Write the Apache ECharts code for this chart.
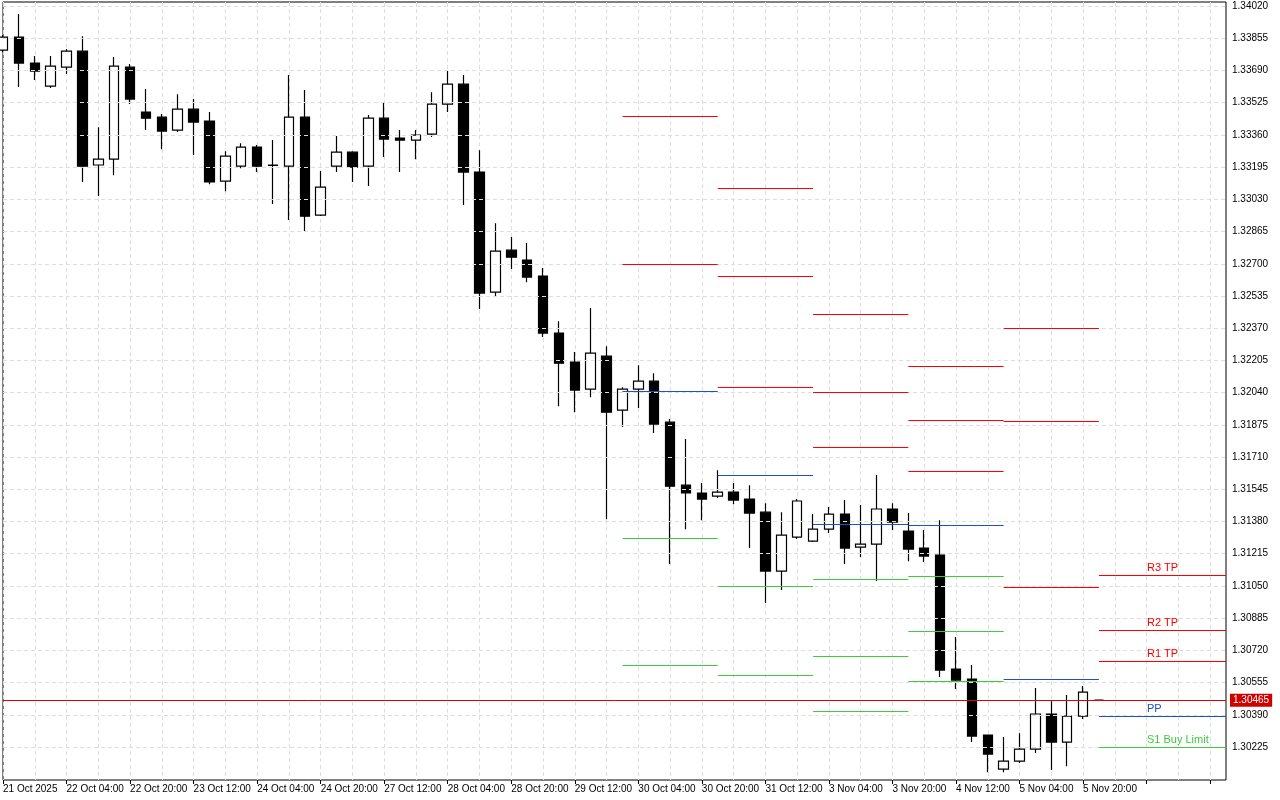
<!DOCTYPE html>
<html><head><meta charset="utf-8">
<script src="https://cdn.jsdelivr.net/npm/echarts@6/dist/echarts.min.js"></script>
<style>html,body{margin:0;padding:0;background:#fff}#c{width:1280px;height:800px}</style>
</head><body><div id="c"></div>
<script>
// OHLC per 4H bar: [open, close, low, high]
const opens  = [1.33795,1.33861,1.33728,1.33610,1.33707,1.33789,1.33206,1.33236,1.33707,1.33477,1.33451,1.33385,1.33492,1.33431,1.33124,1.33200,1.33298,1.33206,1.33200,1.33451,1.32949,1.33200,1.33272,1.33200,1.33446,1.33344,1.33334,1.33364,1.33518,1.33620,1.33170,1.32555,1.32770,1.32719,1.32637,1.32345,1.32197,1.32058,1.32227,1.31951,1.32058,1.32099,1.31889,1.31566,1.31526,1.31510,1.31531,1.31495,1.31428,1.31126,1.31300,1.31280,1.31341,1.31418,1.31249,1.31264,1.31444,1.31331,1.31244,1.31208,1.30624,1.30573,1.30286,1.30112,1.30153,1.30214,1.30394,1.30250,1.30383,1.30465];
const closes = [1.33861,1.33728,1.33687,1.33713,1.33789,1.33200,1.33236,1.33713,1.33544,1.33446,1.33380,1.33492,1.33426,1.33119,1.33252,1.33298,1.33200,1.33204,1.33451,1.32944,1.33093,1.33272,1.33195,1.33446,1.33339,1.33334,1.33359,1.33518,1.33620,1.33170,1.32550,1.32765,1.32734,1.32632,1.32345,1.32191,1.32053,1.32243,1.31940,1.32058,1.32099,1.31879,1.31561,1.31526,1.31495,1.31531,1.31490,1.31423,1.31126,1.31310,1.31485,1.31341,1.31418,1.31244,1.31264,1.31444,1.31377,1.31239,1.31203,1.30619,1.30568,1.30281,1.30189,1.30153,1.30214,1.30394,1.30250,1.30383,1.30506,1.30465];
const lows   = [1.33784,1.33605,1.33641,1.33600,1.33672,1.33119,1.33047,1.33154,1.33518,1.33385,1.33287,1.33375,1.33257,1.33108,1.33072,1.33190,1.33170,1.33006,1.32924,1.32868,1.32945,1.33170,1.33119,1.33098,1.33247,1.33170,1.33236,1.33349,1.33477,1.33001,1.32468,1.32535,1.32673,1.32606,1.32325,1.31971,1.31940,1.32017,1.31392,1.31864,1.31961,1.31833,1.31162,1.31341,1.31387,1.31500,1.31469,1.31244,1.30962,1.31029,1.31290,1.31275,1.31321,1.31162,1.31198,1.31075,1.31336,1.31177,1.31172,1.30583,1.30522,1.30250,1.30096,1.30096,1.30143,1.30194,1.30107,1.30127,1.30368,1.30462];
const highs  = [1.33871,1.33979,1.33764,1.33764,1.33800,1.33866,1.33400,1.33759,1.33723,1.33595,1.33467,1.33569,1.33544,1.33477,1.33277,1.33318,1.33308,1.33334,1.33667,1.33590,1.33175,1.33354,1.33277,1.33462,1.33528,1.33385,1.33385,1.33579,1.33692,1.33667,1.33282,1.32908,1.32837,1.32806,1.32678,1.32406,1.32248,1.32473,1.32278,1.32068,1.32181,1.32140,1.31905,1.31802,1.31577,1.31643,1.31577,1.31566,1.31474,1.31428,1.31495,1.31418,1.31454,1.31490,1.31464,1.31618,1.31474,1.31423,1.31336,1.31387,1.30788,1.30645,1.30286,1.30276,1.30296,1.30527,1.30465,1.30491,1.30537,1.30468];
const totalSlots = 78;
const timeLabels = ['21 Oct 2025','22 Oct 04:00','22 Oct 20:00','23 Oct 12:00','24 Oct 04:00','24 Oct 20:00','27 Oct 12:00','28 Oct 04:00','28 Oct 20:00','29 Oct 12:00','30 Oct 04:00','30 Oct 20:00','31 Oct 12:00','3 Nov 04:00','3 Nov 20:00','4 Nov 12:00','5 Nov 04:00','5 Nov 20:00'];
const priceTicks = [1.30225,1.30390,1.30555,1.30720,1.30885,1.31050,1.31215,1.31380,1.31545,1.31710,1.31875,1.32040,1.32205,1.32370,1.32535,1.32700,1.32865,1.33030,1.33195,1.33360,1.33525,1.33690,1.33855,1.34020];
// daily pivot levels
const dayStart = [39,45,51,57,63,69];
const dayEnd   = [45,51,57,63,69,77];
const resLevels = [[1.33457,1.32699],[1.33088,1.32637,1.32069],[1.32442,1.32043,1.31761],[1.32176,1.31900,1.31638],[1.32371,1.31894,1.31044],[1.31106,1.30824,1.30665]];
const pivotLevels = [1.32048,1.31618,1.31367,1.31362,1.30573,1.30383];
const supLevels = [[1.31295,1.30645],[1.31049,1.30593],[1.31085,1.30691,1.30409],[1.31100,1.30819,1.30563],[],[1.30225]];
const lastLabelsRes = ['R3 TP','R2 TP','R1 TP'];
const lastLabelPivot = 'PP';
const lastLabelsSup = ['S1 Buy Limit'];
const currentPrice = 1.30465;

const RED='#ff0000', BLUE='#1e50c8', GREEN='#3ccc3c';
const FONT='Liberation Sans, Arial';
const cats = Array.from({length: totalSlots}, (_, i) => String(i));
const ohlc = opens.map((o, i) => [o, closes[i], lows[i], highs[i]]);
const lastDay = dayStart.length - 1;
function seg(d, v, color, label) {
  const lab = label ? {show:true, formatter: label, position:'insideStartTop', distance:[48,2], color: color, fontSize: 11, fontFamily:FONT} : {show:false};
  return [{coord:[dayStart[d], v], lineStyle:{color:color, width:1, type:'solid'}, label: lab}, {coord:[dayEnd[d], v]}];
}
const levelData = [];
resLevels.forEach((arr, d) => arr.forEach((v, j) => levelData.push(seg(d, v, RED, d === lastDay ? lastLabelsRes[j] : null))));
pivotLevels.forEach((v, d) => levelData.push(seg(d, v, BLUE, d === lastDay ? lastLabelPivot : null)));
supLevels.forEach((arr, d) => arr.forEach((v, j) => levelData.push(seg(d, v, GREEN, d === lastDay ? lastLabelsSup[j] : null))));

const chart = echarts.init(document.getElementById('c'), null, {renderer:'canvas'});
chart.setOption({
  animation:false,
  backgroundColor:'#fff',
  grid:{left:2, right:54, top:2, bottom:20, show:true, borderColor:'#000', borderWidth:1, containLabel:false},
  xAxis:{type:'category', data:cats, boundaryGap:false,
    axisLine:{show:false},
    axisTick:{show:true, interval:3, length:4, lineStyle:{color:'#000'}},
    axisLabel:{interval:3, align:'left', margin:4, fontSize:10, color:'#000', fontFamily:FONT,
      formatter:(v, i) => (i % 4 === 0 && timeLabels[i/4]) ? timeLabels[i/4] : ''},
    splitLine:{show:true, interval:1, lineStyle:{color:'#dedede', type:[4,3]}}},
  yAxis:{type:'value', position:'right', min:1.30056, max:1.34041, scale:true,
    axisLine:{show:false}, axisTick:{show:false}, axisLabel:{show:false}, splitLine:{show:false}},
  series:[
    {type:'line', data:[], z:1, silent:true,
      markLine:{silent:true, symbol:'none', animation:false, precision:5,
        data: priceTicks.map(v => ({yAxis:v, lineStyle:{color:'#dedede', type:[4,3], width:1},
          label:{show:true, position:'end', distance:6, formatter: v.toFixed(5), color:'#000', fontSize:10, fontFamily:FONT}}))}},
    {type:'candlestick', data:ohlc, barWidth:10, z:2,
      itemStyle:{color:'#ffffff', color0:'#000000', borderColor:'#000', borderColor0:'#000', borderWidth:1.2},
      markLine:{silent:true, symbol:'none', animation:false, precision:5, data: levelData.concat([
        {yAxis: currentPrice, lineStyle:{color:'#e00000', width:1, type:'solid'},
          label:{show:true, position:'end', distance:4, formatter: currentPrice.toFixed(5), color:'#fff', backgroundColor:'#d00000', padding:[2,3,1,3], fontSize:10, fontFamily:FONT}}])}}
  ]
});
</script></body></html>
